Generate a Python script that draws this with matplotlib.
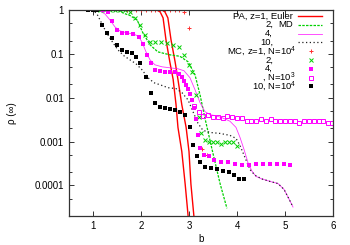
import matplotlib
matplotlib.use("Agg")
import matplotlib.pyplot as plt
from matplotlib.ticker import LogLocator, FixedLocator, NullFormatter, FixedFormatter

plt.rcParams['font.family'] = ['Liberation Sans', 'DejaVu Sans']
plt.rcParams['mathtext.fontset'] = 'custom'
plt.rcParams['mathtext.rm'] = 'Liberation Sans'
plt.rcParams['mathtext.it'] = 'Liberation Sans:italic'
plt.rcParams['font.size'] = 7

# ---------------- data ----------------
# PA, z=1, Euler (two curves)
pa1a_x = [2.00, 2.19, 2.33, 2.40, 2.46, 2.52, 2.60, 2.67, 2.73, 2.77, 2.85, 2.92, 2.98, 3.00]
pa1a_y = [1.0, 1.0, 1.0, 0.90, 0.66, 0.21, 0.066, 0.026, 0.0069, 0.0021, 5.9e-4, 1.07e-4, 2.1e-5, 1.2e-5]
pa1b_x = [2.00, 2.29, 2.44, 2.50, 2.56, 2.625, 2.71, 2.77, 2.85, 2.94, 3.00, 3.04, 3.10, 3.12]
pa1b_y = [1.0, 1.0, 1.0, 0.90, 0.66, 0.21, 0.066, 0.026, 0.0069, 0.0021, 5.9e-4, 1.07e-4, 2.1e-5, 1.2e-5]

# PA, z=2, MD
pa2_x = [0.9, 1.40, 1.56, 1.63, 1.77, 1.92, 2.04, 2.19, 2.35, 2.60, 2.81, 2.98, 3.125, 3.23, 3.33, 3.48, 3.65, 3.79]
pa2_y = [1.0, 1.0, 0.95, 0.85, 0.75, 0.59, 0.30, 0.16, 0.111, 0.095, 0.088, 0.066, 0.0334, 0.0116, 0.0035, 6.6e-4, 1.07e-4, 3.0e-5]

# PA, z=4
pa4_x = [0.9, 1.04, 1.146, 1.25, 1.354, 1.458, 1.5625, 1.708, 1.833, 1.9375, 2.02, 2.104, 2.1875, 2.29,
         2.4375, 2.604, 2.77, 2.896, 3.02, 3.125, 3.23, 3.333, 3.4375, 3.54, 3.6875, 3.854, 3.979,
         4.0625, 4.146, 4.229, 4.3125, 4.396, 4.52, 4.6875, 4.854, 4.979, 5.083, 5.167]
pa4_y = [1.0, 1.0, 0.949, 0.811, 0.593, 0.41, 0.333, 0.30, 0.285, 0.256, 0.187, 0.111, 0.073, 0.0562,
         0.0506, 0.048, 0.0456, 0.0411, 0.0285, 0.0152, 0.0077, 0.0048, 0.0041, 0.0039, 0.0035, 0.0029, 0.0021,
         0.00124, 6.6e-4, 3.3e-4, 2.1e-4, 1.6e-4, 1.4e-4, 1.23e-4, 1.1e-4, 8.1e-5, 4.9e-5, 3.2e-5]

# PA, z=10
pa10_x = [0.9, 1.0, 1.083, 1.146, 1.229, 1.3125, 1.417, 1.52, 1.646, 1.77, 1.896, 2.02, 2.146, 2.27, 2.396,
          2.5625, 2.729, 2.854, 2.98, 3.083, 3.1875, 3.29, 3.4375, 3.646, 3.854, 3.979, 4.0625, 4.167,
          4.27, 4.375, 4.52, 4.6875, 4.854, 4.979, 5.083, 5.167]
pa10_y = [1.0, 1.0, 0.811, 0.593, 0.39, 0.27, 0.178, 0.123, 0.090, 0.073, 0.0594, 0.0433, 0.0285, 0.0219,
          0.0197, 0.0169, 0.0161, 0.0130, 0.0089, 0.0048, 0.0026, 0.0018, 0.00161, 0.00153, 0.00138,
          0.00118, 8.1e-4, 4.3e-4, 2.3e-4, 1.7e-4, 1.4e-4, 1.23e-4, 1.1e-4, 8.1e-5, 4.9e-5, 3.2e-5]

# MC, z=1, N=1e4
mc1_x = [1.7, 1.8, 1.9, 2.0, 2.1, 2.2, 2.3, 2.4, 2.5, 2.6, 2.7, 2.8, 2.9, 3.0, 3.27, 3.38]
mc1_y = [1, 1, 1, 1, 1, 1, 1, 1, 1, 1, 1, 1.0, 0.9, 0.39, 6.6e-4, 5.0e-4]

# MC, z=2, N=1e4
mc2_x = [1.15, 1.25, 1.35, 1.46, 1.56, 1.67, 1.77, 1.88, 1.98, 2.08, 2.19, 2.29, 2.42, 2.54, 2.67, 2.79,
         2.90, 3.00, 3.06, 3.15, 3.21, 3.25, 3.33, 3.42, 3.50, 3.58, 3.67, 3.75, 3.83, 3.92, 4.00]
mc2_y = [1.0, 1.0, 1.0, 1.0, 1.0, 1.0, 0.90, 0.66, 0.46, 0.27, 0.187, 0.187, 0.187, 0.178, 0.16, 0.144,
         0.095, 0.056, 0.039, 0.0117, 0.0037, 0.0016, 0.0011, 9.5e-4, 9.5e-4, 1.0e-3, 9.0e-4, 1.0e-3,
         9.5e-4, 1.0e-3, 8.1e-4]

# MC, z=4, N=1e4
mc4_x = [1.21, 1.31, 1.40, 1.50, 1.60, 1.71, 1.83, 1.96, 2.04, 2.13, 2.21, 2.29, 2.40, 2.50, 2.60, 2.71,
         2.79, 2.85, 2.90, 2.94, 2.98, 3.02, 3.06, 3.10, 3.15, 3.19, 3.23, 3.31, 3.42, 3.52, 3.67, 3.81,
         3.96, 4.10, 4.25, 4.40, 4.54, 4.69, 4.83, 4.98, 5.10]
mc4_y = [1.0, 0.9, 0.56, 0.35, 0.30, 0.30, 0.285, 0.24, 0.17, 0.095, 0.062, 0.043, 0.041, 0.039, 0.039,
         0.039, 0.035, 0.030, 0.024, 0.0197, 0.016, 0.0123, 0.0089, 0.0059, 0.0032, 0.0014, 7.3e-4,
         4.8e-4, 4.6e-4, 3.7e-4, 3.5e-4, 3.5e-4, 3.1e-4, 2.9e-4, 2.9e-4, 3.0e-4, 3.0e-4, 3.0e-4, 3.1e-4,
         3.0e-4, 2.9e-4]

# MC, z=4, N=1e3
mc4b_x = [3.1, 3.2, 3.3, 3.4, 3.5, 3.6, 3.7, 3.8, 3.9, 4.0, 4.1, 4.2, 4.3, 4.4, 4.5, 4.6, 4.7, 4.8, 4.9,
          5.0, 5.1, 5.2, 5.3, 5.4, 5.5, 5.6, 5.7, 5.8, 5.9, 5.97]
mc4b_y = [0.0065, 0.0046, 0.0039, 0.0041, 0.0037, 0.0037, 0.0035, 0.0039, 0.0037, 0.0035, 0.0034, 0.0030,
          0.0029, 0.0030, 0.0032, 0.0029, 0.0032, 0.0030, 0.0030, 0.0029, 0.0029, 0.0030, 0.0027, 0.0030,
          0.0029, 0.0029, 0.0029, 0.0030, 0.0027, 0.0027]

# MC, z=10, N=1e4
mc10_x = [0.9, 1.0, 1.08, 1.19, 1.29, 1.40, 1.50, 1.60, 1.71, 1.81, 1.90, 1.98, 2.10, 2.21, 2.29, 2.40,
          2.50, 2.60, 2.71, 2.81, 2.92, 3.02, 3.08, 3.17, 3.23, 3.33, 3.46, 3.58, 3.71, 3.83, 3.94, 4.04, 4.15]
mc10_y = [1.0, 1.0, 1.0, 0.46, 0.30, 0.23, 0.16, 0.123, 0.111, 0.105, 0.086, 0.0625, 0.030, 0.013, 0.0077,
          0.0062, 0.0059, 0.0056, 0.0053, 0.0048, 0.0041, 0.0022, 8.5e-4, 4.6e-4, 3.4e-4, 2.6e-4, 2.5e-4,
          2.4e-4, 2.1e-4, 2.0e-4, 1.7e-4, 1.4e-4, 1.4e-4]

xticks = [1, 2, 3, 4, 5, 6]
yticks = [1e-4, 1e-3, 1e-2, 1e-1, 1]
yticklabels = ['0.0001', '0.001', '0.01', '0.1', '1']

legend_labels = ['PA, z=1, Euler', '2,', '4,', '10,', 'MC, z=1, N=10$^{4}$', '2,', '4,',
                 ', N=10$^{3}$', '10, N=10$^{4}$']

# ---------------- styles ----------------
RED = '#ff0000'
GREEN = '#00d000'
MAG = '#ff00ff'
BLK = '#000000'

s_pa1 = dict(color=RED, lw=1.0, ls='-')
s_pa2 = dict(color=GREEN, lw=0.9, ls=(0, (2.0, 1.0)))
s_pa4 = dict(color=MAG, lw=0.6, ls='-', alpha=0.8)
s_pa10 = dict(color='#222222', lw=0.9, ls=(0, (1.0, 2.0)))
s_mc1 = dict(ls='none', marker='+', ms=3.5, mew=0.7, color='#ff3030')
s_mc2 = dict(ls='none', marker='x', ms=3.0, mew=0.7, color=GREEN)
s_mc4 = dict(ls='none', marker='s', ms=2.8, mew=0, color=MAG)
s_mc4b = dict(ls='none', marker='s', ms=3.0, mew=0.7, mfc='none', mec=MAG)
s_mc10 = dict(ls='none', marker='s', ms=2.8, mew=0, color=BLK)

fig = plt.figure(figsize=(3.5, 2.45), dpi=100)
ax = fig.add_axes([69/350, 1 - 216/245, 264/350, 206/245])

ax.plot(pa1a_x, pa1a_y, **s_pa1)
ax.plot(pa1b_x, pa1b_y, **s_pa1)
ax.plot(pa2_x, pa2_y, **s_pa2)
ax.plot(pa4_x, pa4_y, **s_pa4)
ax.plot(pa10_x, pa10_y, **s_pa10)
ax.plot(mc1_x, mc1_y, **s_mc1)
ax.plot(mc2_x, mc2_y, **s_mc2)
ax.plot(mc4_x, mc4_y, **s_mc4)
ax.plot(mc4b_x, mc4b_y, **s_mc4b)
ax.plot(mc10_x, mc10_y, **s_mc10)

ax.set_yscale('log')
ax.set_xlim(0.5, 6)
ax.set_ylim(2e-5, 1)
ax.xaxis.set_major_locator(FixedLocator(xticks))
ax.set_xticklabels([str(t) for t in xticks])
ax.yaxis.set_major_locator(FixedLocator(yticks))
ax.yaxis.set_major_formatter(FixedFormatter(yticklabels))
ax.yaxis.set_minor_locator(LogLocator(base=10, subs=(2.0, 5.0)))
ax.yaxis.set_minor_formatter(NullFormatter())
ax.tick_params(which='both', direction='in', top=True, right=True, width=0.7, colors='#333333',
               labelcolor='black', labelsize=7)
ax.tick_params(which='major', length=3.5, pad=3.5)
ax.tick_params(which='minor', length=2)
for sp in ax.spines.values():
    sp.set_linewidth(0.9)
    sp.set_color('#333333')

ax.set_xlabel('b', fontsize=7, labelpad=2)
ax.set_ylabel('ρ (∞)', fontsize=7, labelpad=13)

# ---------------- key (gnuplot style, right justified) ----------------
styles = [s_pa1, s_pa2, s_pa4, s_pa10, s_mc1, s_mc2, s_mc4, s_mc4b, s_mc10]
short_rows = {1, 2, 3, 5, 6}
sup_rows = {4, 7, 8}
x_main = (293 - 69) / 264
x_sup = (296 - 69) / 264
x_short = (273 - 69) / 264
l0, l1 = (298 - 69) / 264, (322 - 69) / 264
xm = (311 - 69) / 264
for i, (lab, st) in enumerate(zip(legend_labels, styles)):
    ay = (216 - (16 + 8.8 * i)) / 206
    if i in short_rows:
        tx = x_short
    elif i in sup_rows:
        tx = x_sup
    else:
        tx = x_main
    ax.text(tx, ay, lab, transform=ax.transAxes, ha='right', va='center', fontsize=6.8)
    if i == 1:
        ax.text(x_main, ay, 'MD', transform=ax.transAxes, ha='right', va='center', fontsize=6.8)
    if st.get('ls') == 'none':
        ax.plot([xm], [ay], transform=ax.transAxes, clip_on=False, **st)
    else:
        ax.plot([l0, l1], [ay, ay], transform=ax.transAxes, clip_on=False, **st)

fig.savefig('out.png', dpi=100)
